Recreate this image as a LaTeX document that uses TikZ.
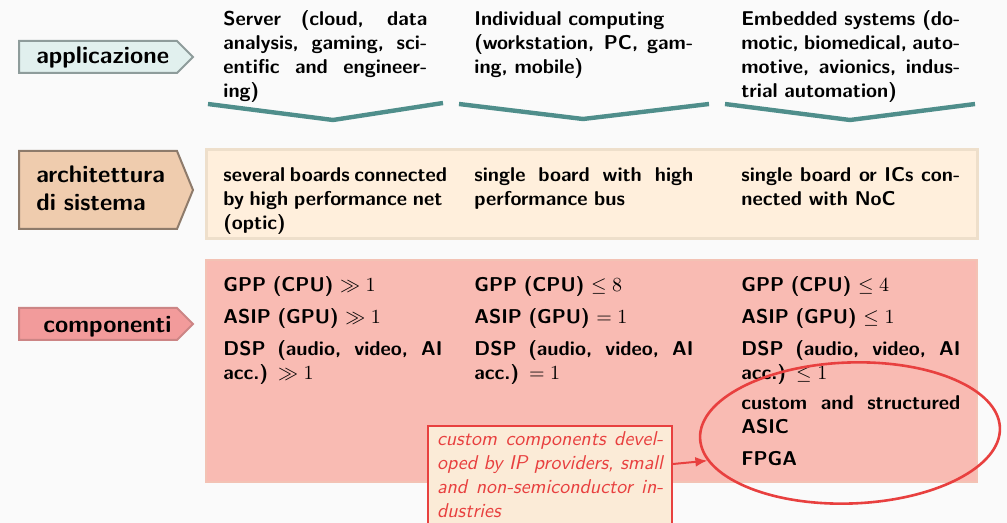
\documentclass[tikz,border=0pt]{standalone}
\usetikzlibrary{shapes.geometric,calc,arrows.meta}
\definecolor{bgc}{HTML}{FAFAFA}
\definecolor{teal1}{HTML}{4F8E8B}
\definecolor{appfill}{HTML}{E1F0EE}
\definecolor{appdraw}{HTML}{8E9C9B}
\definecolor{archfill}{HTML}{EFCCAE}
\definecolor{archdraw}{HTML}{8E7B6B}
\definecolor{compfill}{HTML}{F29B9B}
\definecolor{compdraw}{HTML}{CC8585}
\definecolor{archbox}{HTML}{FFEFDC}
\definecolor{archboxd}{HTML}{EEDFCB}
\definecolor{compbox}{HTML}{F9BBB3}
\definecolor{compboxd}{HTML}{F3C2B4}
\definecolor{notefill}{HTML}{FBEBD7}
\definecolor{redc}{HTML}{E8403F}
\newcommand{\jl}[2][109.5pt]{{\spaceskip=0.33em plus 1em minus 0.1em\relax\xspaceskip=0.4em plus 1em minus 0.1em\relax\makebox[#1][s]{#2}}}
\tikzset{
  body/.style={font=\fontsize{10}{12}\selectfont\sffamily\bfseries, inner sep=0pt, text width=109.5pt, align=left, anchor=base west},
  labtext/.style={font=\fontsize{12}{14}\selectfont\sffamily\bfseries, inner sep=0pt, text width=120pt, align=left, anchor=base west},
  chev/.style={draw=teal1, line width=2.2pt},
  labshape/.style={line width=1pt},
}
\begin{document}
\begin{tikzpicture}[x=0.5pt,y=-0.5pt]
\useasboundingbox (0,0) rectangle (1007,523);
\fill[bgc] (0,0) rectangle (1007,523);

% left labels
\filldraw[labshape, fill=appfill, draw=appdraw] (19,41) -- (177,41) -- (193,57) -- (177,73) -- (19,73) -- cycle;
\node[labtext] (lapp) at (36,64) {applicazione};
\filldraw[labshape, fill=archfill, draw=archdraw] (19,151) -- (177,151) -- (193,190) -- (177,229) -- (19,229) -- cycle;
\node[labtext] (larch) at (36,183) {architettura\\di sistema};
\filldraw[labshape, fill=compfill, draw=compdraw] (19,308) -- (177,308) -- (193,324) -- (177,340) -- (19,340) -- cycle;
\node[labtext] (lcomp) at (43,333) {componenti};

% application row
\node[body, text width=102pt] (app1) at (223,26) {\jl[102pt]{Server (cloud, data}\\\jl[102pt]{analysis, gaming, sci-}\\\jl[102pt]{entific and engineer-}\\ing)};
\node[body] (app2) at (474,26) {Individual computing\\\jl{(workstation, PC, gam-}\\ing, mobile)};
\node[body] (app3) at (741,26) {\jl{Embedded systems (do-}\\\jl{motic, biomedical, auto-}\\\jl{motive, avionics, indus-}\\trial automation)};

\draw[chev] (208,104) -- (333,120) -- (443,103);
\draw[chev] (459,104) -- (583,119) -- (709,104);
\draw[chev] (725,104) -- (850,120) -- (975,104);

% architecture row
\filldraw[fill=archbox, draw=archboxd, line width=1.5pt] (206,150) rectangle (977,239);
\node[body] (arch1) at (223,182) {\jl{several boards connected}\\\jl{by high performance net}\\(optic)};
\node[body] (arch2) at (474,182) {\jl{single board with high}\\performance bus};
\node[body] (arch3) at (741,182) {\jl{single board or ICs con-}\\nected with NoC};

% components row
\filldraw[fill=compbox, draw=compboxd, line width=1pt] (206,260) rectangle (977,482);
\node[body] (comp1) at (223,292) {GPP (CPU) $\gg 1$\\[4pt]ASIP (GPU) $\gg 1$\\[4pt]\jl{DSP (audio, video, AI}\\acc.) $\gg 1$};
\node[body] (comp2) at (474,292) {GPP (CPU) $\leq 8$\\[4pt]ASIP (GPU) $= 1$\\[4pt]\jl{DSP (audio, video, AI}\\acc.) $= 1$};
\node[body] (comp3) at (741,292) {GPP (CPU) $\leq 4$\\[4pt]ASIP (GPU) $\leq 1$\\[4pt]\jl{DSP (audio, video, AI}\\acc.) $\leq 1$\\[3pt]\jl{custom and structured}\\ASIC\\[4pt]FPGA};

% note and ellipse
\node[draw=redc, fill=notefill, line width=1pt, text=redc, font=\fontsize{10}{12}\selectfont\sffamily\itshape,
  text width=113pt, inner xsep=4.5pt, inner ysep=3pt, align=left, anchor=north west] (note) at (427,425)
  {\jl[113pt]{custom components devel-}\\\jl[113pt]{oped by IP providers, small}\\\jl[113pt]{and non-semiconductor in-}\\dustries};
\node[draw=redc, line width=1.3pt, ellipse, minimum width=150pt, minimum height=70.5pt, rotate=2] (ell) at (850,433) {};
\draw[redc, line width=1pt, -{Latex[length=6pt,width=5pt]}] ($(note.north east)+(0,39)$) -- (ell.189);
\end{tikzpicture}
\end{document}
